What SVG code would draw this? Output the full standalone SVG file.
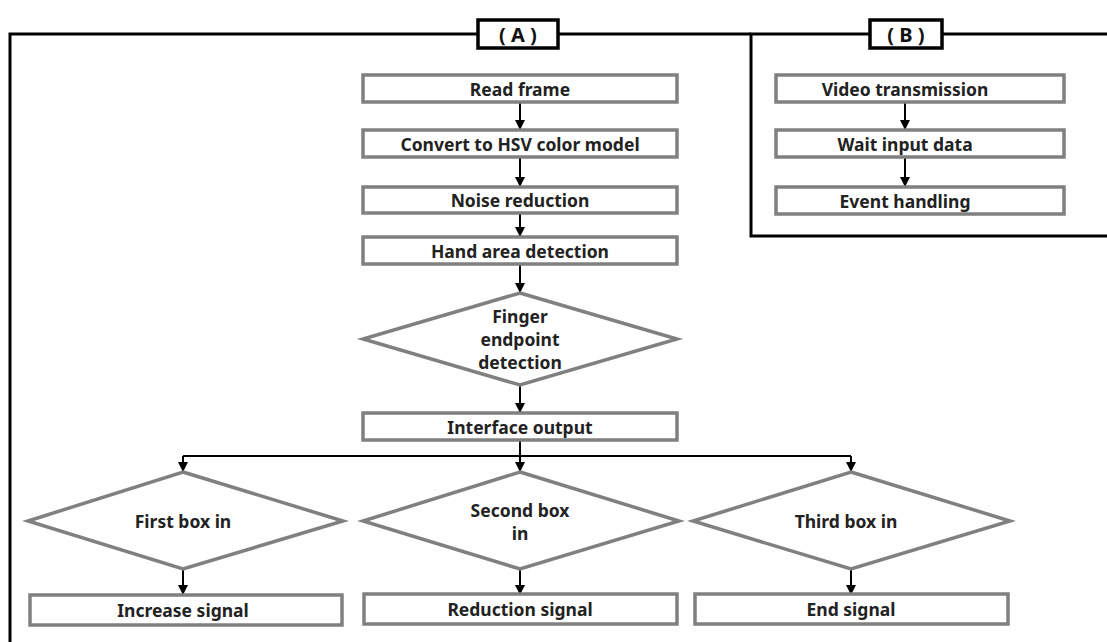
<svg xmlns="http://www.w3.org/2000/svg" width="1107" height="642" viewBox="0 0 1107 642">
<defs>
<marker id="ah" viewBox="0 0 10 10" refX="9" refY="5" markerWidth="5" markerHeight="5" orient="auto" markerUnits="strokeWidth">
<path d="M0,0 L10,5 L0,10 z" fill="#000"/>
</marker>
<style>
.box{fill:#fff;stroke:#808080;stroke-width:3.5}
.frame{fill:none;stroke:#000;stroke-width:3}
.lbl{fill:#fff;stroke:#000;stroke-width:3.5}
.t{font-family:"Noto Sans","Liberation Sans",sans-serif;font-size:17.5px;font-weight:bold;fill:#222;text-anchor:middle;dominant-baseline:central}
.tl{font-family:"Noto Sans","Liberation Sans",sans-serif;font-size:20px;font-weight:bold;fill:#111;text-anchor:middle;dominant-baseline:central}
.c{fill:none;stroke:#000;stroke-width:2;marker-end:url(#ah)}
.cl{fill:none;stroke:#000;stroke-width:2}
</style>
</defs>
<rect width="1107" height="642" fill="#fff"/>
<g id="frameA">
<path class="frame" d="M10,645 V34 H478 M558,34 H751"/>
<rect class="lbl" x="478" y="20" width="80" height="28"/>
<text class="tl" x="518" y="34">( A )</text>
</g>
<g id="frameB">
<path class="frame" d="M1110,34 H942 M870,34 H751 V236 H1110"/>
<rect class="lbl" x="870" y="20" width="72" height="28"/>
<text class="tl" x="906" y="34">( B )</text>
</g>
<g id="connectors">
<line class="c" x1="520" y1="102" x2="520" y2="129"/>
<line class="c" x1="520" y1="157" x2="520" y2="186"/>
<line class="c" x1="520" y1="213" x2="520" y2="236"/>
<line class="c" x1="520" y1="264" x2="520" y2="292"/>
<line class="c" x1="520" y1="385" x2="520" y2="412"/>
<line class="cl" x1="520" y1="440" x2="520" y2="456"/>
<line class="cl" x1="183" y1="456" x2="851" y2="456"/>
<line class="c" x1="183" y1="456" x2="183" y2="471"/>
<line class="c" x1="520" y1="456" x2="520" y2="471"/>
<line class="c" x1="851" y1="456" x2="851" y2="471"/>
<line class="c" x1="183" y1="569" x2="183" y2="594"/>
<line class="c" x1="520" y1="569" x2="520" y2="594"/>
<line class="c" x1="851" y1="569" x2="851" y2="594"/>
<line class="c" x1="905" y1="102" x2="905" y2="129"/>
<line class="c" x1="905" y1="157" x2="905" y2="186"/>
</g>
<g id="readFrame"><rect class="box" x="363" y="75" width="314" height="27"/><text class="t" x="520" y="88.5">Read frame</text></g>
<g id="convertHSV"><rect class="box" x="363" y="130" width="314" height="27"/><text class="t" x="520" y="143.5">Convert to HSV color model</text></g>
<g id="noiseReduction"><rect class="box" x="363" y="187" width="314" height="26"/><text class="t" x="520" y="200">Noise reduction</text></g>
<g id="handArea"><rect class="box" x="363" y="237" width="314" height="27"/><text class="t" x="520" y="250.5">Hand area detection</text></g>
<g id="fingerEndpoint"><polygon class="box" points="520,293 677,339 520,385 363,339"/>
<text class="t" x="520" y="316">Finger</text><text class="t" x="520" y="339">endpoint</text><text class="t" x="520" y="362">detection</text></g>
<g id="interfaceOutput"><rect class="box" x="363" y="413" width="314" height="27"/><text class="t" x="520" y="426.5">Interface output</text></g>
<g id="firstBox"><polygon class="box" points="183,472 343,521 183,569 28,521"/><text class="t" x="183" y="521">First box in</text></g>
<g id="secondBox"><polygon class="box" points="520,472 679,521 520,569 363,521"/><text class="t" x="520" y="510">Second box</text><text class="t" x="520" y="533">in</text></g>
<g id="thirdBox"><polygon class="box" points="851,472 1010,521 851,569 693,521"/><text class="t" x="846" y="521">Third box in</text></g>
<g id="increaseSignal"><rect class="box" x="30" y="595" width="312" height="30"/><text class="t" x="183" y="610">Increase signal</text></g>
<g id="reductionSignal"><rect class="box" x="364" y="594" width="313" height="30"/><text class="t" x="520" y="609">Reduction signal</text></g>
<g id="endSignal"><rect class="box" x="695" y="594" width="313" height="30"/><text class="t" x="851" y="609">End signal</text></g>
<g id="videoTransmission"><rect class="box" x="776" y="75" width="288" height="27"/><text class="t" x="905" y="88.5">Video transmission</text></g>
<g id="waitInput"><rect class="box" x="776" y="130" width="288" height="27"/><text class="t" x="905" y="143.5">Wait input data</text></g>
<g id="eventHandling"><rect class="box" x="776" y="187" width="288" height="27"/><text class="t" x="905" y="200.5">Event handling</text></g>
</svg>
